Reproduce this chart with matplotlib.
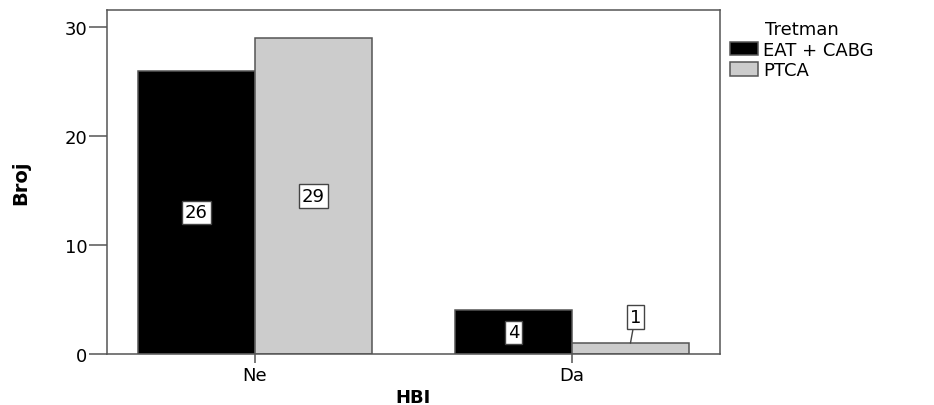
import matplotlib.pyplot as plt
import numpy as np

# data
categories = ["Ne", "Da"]
series_names = ["EAT + CABG", "PTCA"]
eat_cabg = [26, 4]
ptca = [29, 1]

colors = ["#000000", "#cccccc"]
edge = "#555555"

plt.rcParams['font.family'] = ['DejaVu Sans']

fig = plt.figure(figsize=(9.34, 4.06), dpi=100)
ax = fig.add_axes([107 / 934, 1 - 355 / 406, (720 - 107) / 934, (355 - 11) / 406])

x = np.arange(len(categories))
width = 0.369

label_box = dict(boxstyle="square,pad=0.15", facecolor="white", edgecolor="#444444", linewidth=1.0)

for i, (vals, name) in enumerate(zip([eat_cabg, ptca], series_names)):
    pos = x + (i - 0.5) * width
    ax.bar(pos, vals, width, color=colors[i], edgecolor=edge, linewidth=1.1, label=name, zorder=2)
    for p, v in zip(pos, vals):
        if v >= 3:
            ax.text(p, v / 2, str(v), ha="center", va="center", fontsize=13, bbox=label_box, zorder=3)
        else:
            ax.annotate(str(v), xy=(p, v), xytext=(p + 0.015, v + 2.4),
                        ha="center", va="center", fontsize=13, bbox=label_box,
                        arrowprops=dict(arrowstyle="-", color="#444444", linewidth=1.0,
                                        shrinkA=0, shrinkB=0), zorder=3)

ax.set_xlim(-0.467, 1.467)
ax.set_ylim(0, 31.6)
ax.set_yticks([0, 10, 20, 30])
ax.set_xticks(x)
ax.set_xticklabels(categories)

for s in ax.spines.values():
    s.set_color(edge)
    s.set_linewidth(1.1)

ax.tick_params(axis="y", length=13, width=1.1, color=edge, labelsize=13, pad=1)
ax.tick_params(axis="x", length=6.5, width=1.1, color=edge, labelsize=13, pad=2)

ax.set_ylabel("Broj", fontsize=14, fontweight="bold", labelpad=25)
ax.set_xlabel("HBI", fontsize=13, fontweight="bold", labelpad=3)

fig.legend(loc="upper left", bbox_to_anchor=(721 / 934, 1 - 12 / 406), frameon=False,
           title="Tretman", title_fontsize=13, fontsize=13, borderpad=0,
           handlelength=1.55, handleheight=0.8, labelspacing=0.15, handletextpad=0.3)

fig.savefig("out.png", dpi=100)
